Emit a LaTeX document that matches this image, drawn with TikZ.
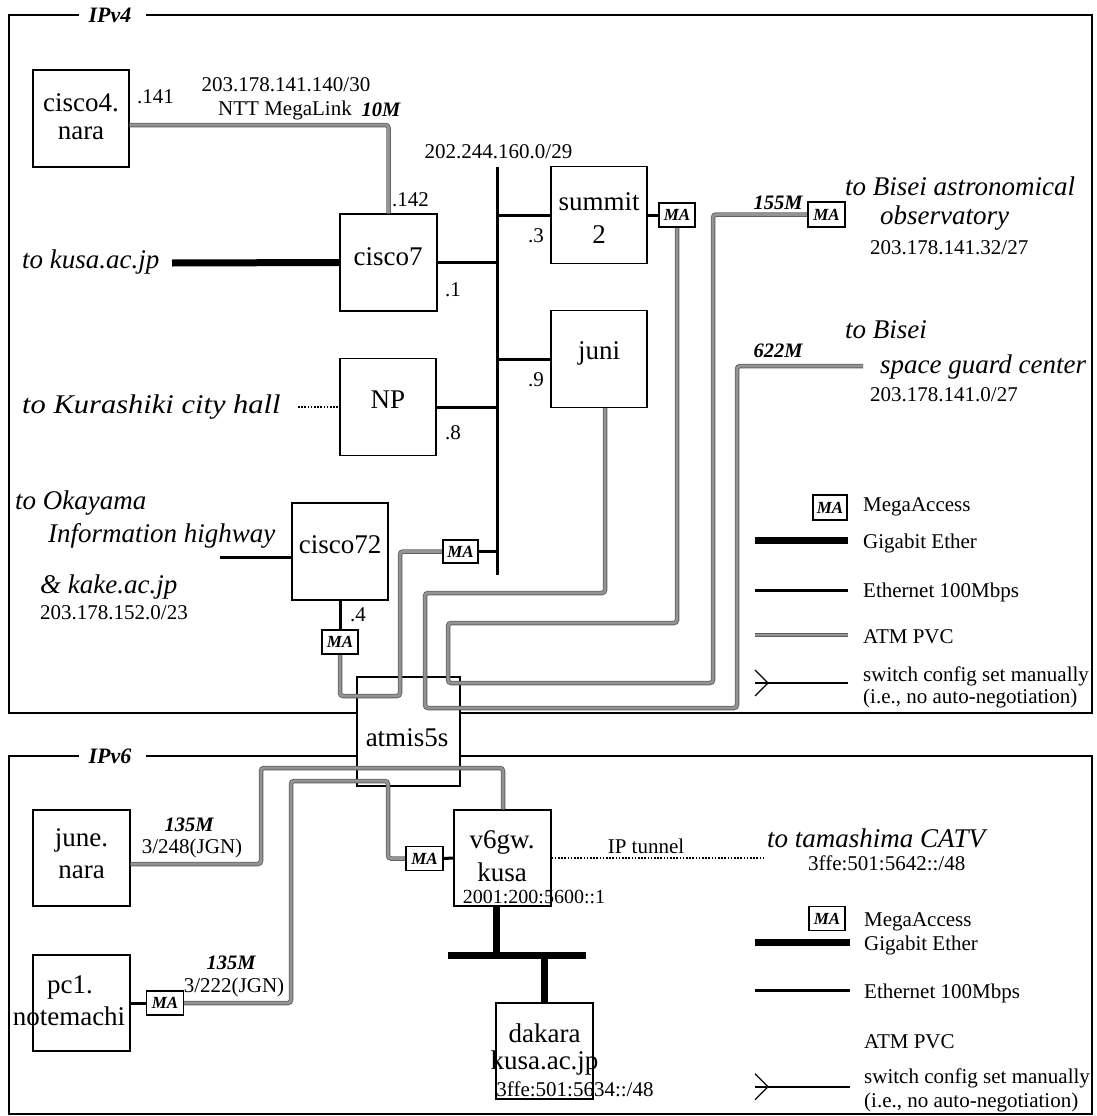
\documentclass[tikz,border=0pt]{standalone}
\usepackage{fontspec}
\setmainfont{Liberation Serif}
\newcommand\fBox{\fontsize{27}{29}\selectfont}
\newcommand\fSm{\fontsize{21}{23}\selectfont}
\newcommand\fAd{\fontsize{20}{22}\selectfont}
\newcommand\fIt{\fontsize{27}{29}\selectfont\itshape}
\newcommand\fBI{\fontsize{20.5}{22}\selectfont\bfseries\itshape}
\newcommand\fIP{\fontsize{22}{24}\selectfont\bfseries\itshape}
\newcommand\fMA{\fontsize{17}{19}\selectfont\bfseries\itshape}
\begin{document}
\begin{tikzpicture}[x=1pt,y=-1pt,
  frame/.style={line width=2.5pt},
  dev/.style={draw, line width=1.3pt, minimum width=96pt, minimum height=97pt, inner sep=0pt},
  ma/.style={draw, line width=1.2pt, fill=white, minimum width=36pt, minimum height=24pt, inner sep=0pt, font=\fMA},
  txt/.style={inner sep=0pt},
  eth/.style={line width=3pt},
  giga/.style={line width=7pt},
  atm/.style={draw=black!62, line width=0.9pt, double=black!42, double distance=2.7pt, rounded corners=3pt},
  dots/.style={line width=1.3pt, dash pattern=on 1.6pt off 1.6pt},
  sw/.style={line width=1.8pt}]
\useasboundingbox (0,0) rectangle (1096,1116);

% ---------- frames ----------
\draw[frame] (79,15) -- (9,15) -- (9,713) -- (357,713);
\draw[frame] (460,713) -- (1092,713) -- (1092,15) -- (146,15);
\node[txt,font=\fIP] (ipv4) at (110,15) {IPv4};
\draw[frame] (79,756) -- (9,756) -- (9,1114) -- (1092,1114) -- (1092,756) -- (460,756);
\draw[frame] (357,756) -- (146,756);
\node[txt,font=\fIP] (ipv6) at (110,756) {IPv6};

% ---------- IPv4 devices ----------
\node[dev] (cisco4) at (81,118.5) {};
\node[dev, minimum width=97pt] (cisco7) at (388.5,262.5) {};
\node[dev] (summit) at (599,215) {};
\node[dev] (juni) at (599,359) {};
\node[dev] (np) at (388,407) {};
\node[dev] (cisco72) at (340,551.5) {};
\node[dev, minimum width=103pt, minimum height=109pt] (atmis) at (408.5,731.5) {};

\node[txt,font=\fBox] (t1) at (81,103) {cisco4.};
\node[txt,font=\fBox] (t2) at (81,133) {nara};
\node[txt,font=\fBox] (t3) at (388,257) {cisco7};
\node[txt,font=\fBox] (t4) at (599,202) {summit};
\node[txt,font=\fBox] (t5) at (599,235) {2};
\node[txt,font=\fBox] (t6) at (599,353) {juni};
\node[txt,font=\fBox] (t7) at (388,400) {NP};
\node[txt,font=\fBox] (t8) at (340,545) {cisco72};
\node[txt,font=\fBox] (t9) at (407,738) {atmis5s};

% ---------- IPv4 connectors ----------
\coordinate (busT) at (497,167);
\coordinate (busB) at (497,575);
\coordinate (kusaend) at (172,263);
\coordinate (khend) at (298,407);
\coordinate (okaend) at (220,557);
\coordinate (sgc) at (863,366);

% MA boxes IPv4 (placed first so connectors can name them)
\node[ma] (ma1) at (677,215) {MA};
\node[ma, minimum width=37pt, minimum height=25pt] (ma2) at (826.5,214.5) {MA};
\node[ma, minimum width=35pt, minimum height=23pt] (ma3) at (460.5,551.5) {MA};
\node[ma] (ma4) at (340,642) {MA};

% ATM PVCs
\draw[atm] ([yshift=-6.5pt]cisco4.east) -| (cisco7.north);
\draw[atm] (ma1.south) -- (677,623) -- (448,623) -- (448,683) -- (713,683) -- (713,214.5) -- (ma2.west);
\draw[atm] ([xshift=6pt]juni.south) -- (605,593) -- (425,593) -- (425,708) -- (737,708) -- (737,366) -- (sgc);
\draw[atm] (ma4.south) -- (340,696) -- (400,696) -- (400,551.5) -- (ma3.west);

\draw[eth] (busT) -- (busB);
\draw[eth] (cisco7.east) -- (cisco7.east -| busT);
\draw[eth] (summit.west) -- (summit.west -| busT);
\draw[eth] (juni.west) -- (juni.west -| busT);
\draw[eth] (np.east) -- (np.east -| busT);
\draw[eth] (ma3.east) -- (ma3.east -| busT);
\draw[eth] (summit.east) -- (ma1.west);
\draw[eth] (cisco72.south) -- (ma4.north);
\draw[eth] (okaend) -- ([yshift=-5.5pt]cisco72.west);
\draw[giga] (kusaend) -- (cisco7.west);
\draw[dots] (khend) -- (np.west);

% MA boxes redrawn on top of the lines
\node[ma] at (ma1) {MA};
\node[ma, minimum width=37pt, minimum height=25pt] at (ma2) {MA};
\node[ma, minimum width=35pt, minimum height=23pt] at (ma3) {MA};
\node[ma] at (ma4) {MA};

% ---------- IPv4 labels ----------
\node[txt,font=\fSm] (l1) at (286,85) {203.178.141.140/30};
\node[txt,font=\fSm] (l2) at (285,110) {NTT MegaLink};
\node[txt,font=\fBI] (l3) at (381,110) {10M};
\node[txt,font=\fSm,anchor=west] (l4) at (137,97) {.141};
\node[txt,font=\fSm,anchor=west] (l5) at (392,200) {.142};
\node[txt,font=\fSm] (l6) at (498.5,152) {202.244.160.0/29};
\node[txt,font=\fSm,anchor=west] (l7) at (445,290) {.1};
\node[txt,font=\fSm,anchor=west] (l8) at (528,236) {.3};
\node[txt,font=\fSm,anchor=west] (l9) at (528,380) {.9};
\node[txt,font=\fSm,anchor=west] (l10) at (445,433) {.8};
\node[txt,font=\fSm,anchor=west] (l11) at (350,615) {.4};

\node[txt,font=\fIt,anchor=west] (k1) at (22,262) {to kusa.ac.jp};
\node[txt,font=\fIt,anchor=west] (k2) at (22,407) {\scalebox{1.13}[1]{to Kurashiki city hall}};
\node[txt,font=\fIt,anchor=west] (k3) at (15,503) {to Okayama};
\node[txt,font=\fIt,anchor=west] (k4) at (48,536) {Information highway};
\node[txt,font=\fIt,anchor=west] (k5) at (40,587) {\& kake.ac.jp};
\node[txt,font=\fSm,anchor=west] (k6) at (40,613) {203.178.152.0/23};

\node[txt,font=\fIt,anchor=west] (b1) at (845,186) {to Bisei astronomical};
\node[txt,font=\fIt,anchor=west] (b2) at (880,218) {observatory};
\node[txt,font=\fSm,anchor=west] (b3) at (870,248) {203.178.141.32/27};
\node[txt,font=\fIt,anchor=west] (b4) at (845,330) {to Bisei};
\node[txt,font=\fIt,anchor=west] (b5) at (880,367) {space guard center};
\node[txt,font=\fSm,anchor=west] (b6) at (870,395) {203.178.141.0/27};
\node[txt,font=\fBI] (b7) at (778,203) {155M};
\node[txt,font=\fBI] (b8) at (778,351) {622M};

% ---------- IPv4 legend ----------
\node[ma, minimum width=34pt, minimum height=25pt] (lma1) at (830,507.5) {MA};
\node[txt,font=\fSm,anchor=west] (lg1) at (863,507) {MegaAccess};
\coordinate (lgA1) at (755,540); \coordinate (lgB1) at (848,540);
\draw[giga] (lgA1) -- (lgB1);
\node[txt,font=\fSm,anchor=west] (lg2) at (863,543) {Gigabit Ether};
\coordinate (lgA2) at (755,590); \coordinate (lgB2) at (848,590);
\draw[eth] (lgA2) -- (lgB2);
\node[txt,font=\fSm,anchor=west] (lg3) at (863,592) {Ethernet 100Mbps};
\coordinate (lgA3) at (755,635); \coordinate (lgB3) at (848,635);
\draw[atm] (lgA3) -- (lgB3);
\node[txt,font=\fSm,anchor=west] (lg4) at (863,637) {ATM PVC};
\coordinate (lgA4) at (755,683); \coordinate (lgB4) at (848,683);
\draw[sw] (lgA4) -- (lgB4);
\draw[line width=1.3pt] (755,670) -- (768,683) -- (755,696);
\node[txt,font=\fSm,anchor=west] (lg5) at (863,676) {switch config set manually};
\node[txt,font=\fSm,anchor=west] (lg6) at (863,698) {(i.e., no auto-negotiation)};

% ---------- IPv6 devices ----------
\node[dev, minimum width=97pt, minimum height=96pt] (june) at (81.5,858) {};
\node[dev, minimum width=97pt, minimum height=96pt] (pc1) at (81.5,1003) {};
\node[dev, minimum width=97pt, minimum height=96pt] (v6gw) at (502.5,858) {};
\node[dev, minimum width=97pt, minimum height=96pt] (dakara) at (544.5,1051) {};

\node[ma, minimum width=37pt] (ma5) at (165,1003) {MA};
\node[ma, minimum width=37pt] (ma6) at (424.5,858.5) {MA};

\coordinate (tamend) at (766,858);
\coordinate (barL) at (448,955);
\coordinate (barR) at (586,955);

\draw[atm] ([yshift=-6pt]june.east) -- (261,864) -- (261,768) -- (503,768) -- ([xshift=0.5pt]v6gw.north);
\draw[atm] (ma5.east) -- (291,1003) -- (291,781) -- (388,781) -- (388,858.5) -- (ma6.west);
\draw[eth] (pc1.east) -- (ma5.west);
\draw[eth] (ma6.east) -- (v6gw.west);
\draw[dots] (v6gw.east) -- (tamend);
\draw[giga] ([xshift=-6.5pt]v6gw.south) -- ([xshift=-6.5pt]v6gw.south |- barL);
\draw[giga] (barL) -- (barR);
\draw[giga] (dakara.north) -- (dakara.north |- barL);

\node[ma, minimum width=37pt] at (ma5) {MA};
\node[ma, minimum width=37pt] at (ma6) {MA};

\node[txt,font=\fBox] (u1) at (81.5,840) {june.};
\node[txt,font=\fBox] (u2) at (81.5,872) {nara};
\node[txt,font=\fBox] (u3) at (70,987) {pc1.};
\node[txt,font=\fBox] (u4) at (69,1016) {notemachi};
\node[txt,font=\fBox] (u5) at (502,842) {v6gw.};
\node[txt,font=\fBox] (u6) at (502,872) {kusa};
\node[txt,font=\fAd] (u7) at (534,897) {2001:200:5600::1};
\node[txt,font=\fBox] (u8) at (544.5,1033) {dakara};
\node[txt,font=\fBox] (u9) at (544.5,1063) {kusa.ac.jp};
\node[txt,font=\fSm] (u10) at (575,1089) {3ffe:501:5634::/48};

\node[txt,font=\fBI] (m1) at (189,825) {135M};
\node[txt,font=\fSm] (m2) at (192,848) {3/248(JGN)};
\node[txt,font=\fBI] (m3) at (231,963) {135M};
\node[txt,font=\fSm] (m4) at (234,987) {3/222(JGN)};
\node[txt,font=\fSm] (m5) at (646,846) {IP tunnel};
\node[txt,font=\fIt,anchor=west] (m6) at (767,838.5) {to tamashima CATV};
\node[txt,font=\fSm,anchor=west] (m7) at (808,863) {3ffe:501:5642::/48};

% ---------- IPv6 legend ----------
\node[ma] (lma2) at (827,918.7) {MA};
\node[txt,font=\fSm,anchor=west] (lh1) at (864,921.7) {MegaAccess};
\coordinate (lhA1) at (755,942); \coordinate (lhB1) at (850,942);
\draw[giga] (lhA1) -- (lhB1);
\node[txt,font=\fSm,anchor=west] (lh2) at (864,945) {Gigabit Ether};
\coordinate (lhA2) at (755,990); \coordinate (lhB2) at (850,990);
\draw[eth] (lhA2) -- (lhB2);
\node[txt,font=\fSm,anchor=west] (lh3) at (864,993) {Ethernet 100Mbps};
\node[txt,font=\fSm,anchor=west] (lh4) at (864,1041.7) {ATM PVC};
\coordinate (lhA4) at (755,1086.7); \coordinate (lhB4) at (850,1086.7);
\draw[sw] (lhA4) -- (lhB4);
\draw[line width=1.3pt] (755,1073.7) -- (768,1086.7) -- (755,1099.7);
\node[txt,font=\fSm,anchor=west] (lh5) at (864,1078.3) {switch config set manually};
\node[txt,font=\fSm,anchor=west] (lh6) at (864,1102.7) {(i.e., no auto-negotiation)};

\end{tikzpicture}
\end{document}
